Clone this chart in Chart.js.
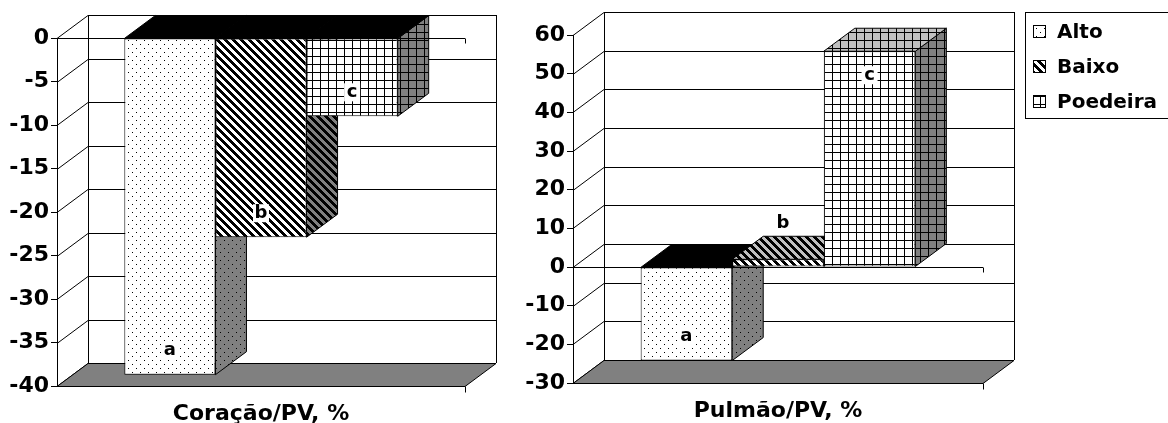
<!DOCTYPE html>
<html>
<head>
<meta charset="utf-8">
<script src="https://cdn.jsdelivr.net/npm/chart.js@4.4.1/dist/chart.umd.min.js"></script>
<style>
  html, body { margin: 0; padding: 0; background: #fff; overflow: hidden; }
  #wrap { position: relative; width: 1168px; height: 423px; overflow: hidden; }
  canvas { position: absolute; top: 0; }
  #coracao { left: 0; }
  #pulmao { left: 520px; }
</style>
</head>
<body>
<div id="wrap">
  <canvas id="coracao" width="520" height="430"></canvas>
  <canvas id="pulmao" width="648" height="430"></canvas>
</div>
<script>
// data
const groups = ["Alto", "Baixo", "Poedeira"];
const patterns = ["dots", "diag", "grid"];
const coracaoValues = [-38.7, -22.9, -9.0];
const pulmaoValues = [-24.2, 2.0, 55.8];
const coracaoLetters = ["a", "b", "c"];
const pulmaoLetters = ["a", "b", "c"];
const coracaoAxis = [-40, 0, 5]; // min, max, step
const pulmaoAxis = [-30, 60, 10];

const depth = { dx: 31, dy: -23 };
const FONT = "'DejaVu Sans', 'Liberation Sans', sans-serif";

const makePattern = (kind, bg) => {
  const c = document.createElement("canvas");
  c.width = 8;
  c.height = 8;
  const g = c.getContext("2d");
  g.fillStyle = bg;
  g.fillRect(0, 0, 8, 8);
  g.fillStyle = "#000";
  if (kind === "dots") {
    g.fillRect(0, 0, 1, 1);
    g.fillRect(4, 4, 1, 1);
  } else if (kind === "diag") {
    for (let y = 0; y < 8; y++)
      for (let x = 0; x < 8; x++)
        if ((((x - y) % 8) + 8) % 8 < 4) g.fillRect(x, y, 1, 1);
  } else {
    g.fillRect(0, 0, 8, 1);
    g.fillRect(0, 0, 1, 8);
  }
  return g.createPattern(c, "repeat");
};

const poly = (ctx, pts, fill) => {
  ctx.beginPath();
  pts.forEach(([px, py], i) => (i ? ctx.lineTo(px, py) : ctx.moveTo(px, py)));
  ctx.closePath();
  ctx.fillStyle = fill;
  ctx.fill();
  ctx.stroke();
};

// walls, floor and the side/top faces of the bars
const box3d = {
  id: "box3d",
  beforeDatasetsDraw(chart) {
    const { ctx, chartArea: a, scales: { y } } = chart;
    const { dx, dy } = depth;
    const top = y.getPixelForValue(y.max);
    const bottom = y.getPixelForValue(y.min);
    ctx.save();
    ctx.strokeStyle = "#000";
    ctx.lineWidth = 1;
    ctx.beginPath();
    y.ticks.forEach((t) => {
      const py = Math.round(y.getPixelForValue(t.value)) + 0.5;
      ctx.moveTo(a.left + dx, py + dy);
      ctx.lineTo(a.right + dx, py + dy);
      ctx.moveTo(a.left, py);
      ctx.lineTo(a.left + dx, py + dy);
    });
    ctx.moveTo(Math.round(a.left + dx) + 0.5, top + dy);
    ctx.lineTo(Math.round(a.left + dx) + 0.5, bottom + dy);
    ctx.moveTo(Math.round(a.right + dx) + 0.5, top + dy);
    ctx.lineTo(Math.round(a.right + dx) + 0.5, bottom + dy);
    ctx.stroke();

    const fb = Math.round(bottom) + 0.5;
    poly(ctx, [[a.left, fb], [a.right, fb], [a.right + dx, fb + dy], [a.left + dx, fb + dy]], "#808080");

    chart.data.datasets.forEach((ds, i) => {
      const bar = chart.getDatasetMeta(i).data[0];
      const x0 = bar.x - bar.width / 2;
      const x1 = bar.x + bar.width / 2;
      poly(ctx, [[x1, bar.y], [x1 + dx, bar.y + dy], [x1 + dx, bar.base + dy], [x1, bar.base]], ds.sideFill);
      const yt = Math.min(bar.y, bar.base);
      poly(ctx, [[x0, yt], [x0 + dx, yt + dy], [x1 + dx, yt + dy], [x1, yt]], ds.data[0] < 0 ? "#000" : ds.topFill);
    });
    ctx.restore();
  },
  afterDatasetsDraw(chart) {
    const { ctx, chartArea: a, scales: { y } } = chart;
    const zero = Math.round(y.getPixelForValue(0)) + 0.5;
    const bottom = Math.round(y.getPixelForValue(y.min)) + 0.5;
    ctx.save();
    ctx.strokeStyle = "#000";
    ctx.lineWidth = 1;
    ctx.beginPath();
    ctx.moveTo(a.left, zero);
    ctx.lineTo(a.right, zero);
    ctx.moveTo(Math.round(a.right) + 0.5, zero);
    ctx.lineTo(Math.round(a.right) + 0.5, zero + 5);
    ctx.moveTo(Math.round(a.right) + 0.5, bottom);
    ctx.lineTo(Math.round(a.right) + 0.5, bottom + 6);
    ctx.stroke();

    ctx.font = "bold 18px " + FONT;
    ctx.textAlign = "center";
    ctx.textBaseline = "middle";
    chart.data.datasets.forEach((ds, i) => {
      const bar = chart.getDatasetMeta(i).data[0];
      const len = Math.abs(bar.base - bar.y);
      let lx = bar.x;
      let ly;
      if (len < 40) {
        ly = Math.min(bar.y, bar.base) + depth.dy - 13;
        lx += 5;
      } else {
        ly = bar.y + (bar.y > bar.base ? -24 : 24);
        ctx.fillStyle = "#fff";
        ctx.fillRect(lx - 8, ly - 9, 16, 18);
      }
      ctx.fillStyle = "#000";
      ctx.fillText(ds.letter, lx, ly);
    });
    ctx.restore();
  },
};

const legendBox = {
  id: "legendBox",
  afterDraw(chart) {
    const ctx = chart.ctx;
    const bx = 505, by = 12;
    ctx.save();
    ctx.strokeStyle = "#000";
    ctx.lineWidth = 1;
    ctx.fillStyle = "#fff";
    ctx.fillRect(bx + 0.5, by + 0.5, 150, 106);
    ctx.strokeRect(bx + 0.5, by + 0.5, 150, 106);
    ctx.font = "bold 20px " + FONT;
    ctx.textBaseline = "middle";
    chart.data.datasets.forEach((ds, i) => {
      const cy = by + 20 + i * 35;
      ctx.fillStyle = ds.backgroundColor;
      ctx.fillRect(bx + 8.5, cy - 6.5, 12, 12);
      ctx.strokeRect(bx + 8.5, cy - 6.5, 12, 12);
      ctx.fillStyle = "#000";
      ctx.fillText(ds.label, bx + 32, cy + 1);
    });
    ctx.restore();
  },
};

const buildDatasets = (values, letters) =>
  groups.map((g, i) => ({
    label: g,
    data: [values[i]],
    letter: letters[i],
    backgroundColor: makePattern(patterns[i], "#fff"),
    sideFill: makePattern(patterns[i], "#808080"),
    topFill: makePattern(patterns[i], "#c0c0c0"),
    borderColor: "#000",
    borderWidth: 1,
    borderSkipped: false,
    barPercentage: 1,
    categoryPercentage: 0.67,
  }));

const createChart = (id, values, letters, axis, title, pad, axisWidth, titlePad, extra) => {
  return new Chart(document.getElementById(id), {
    type: "bar",
    data: { labels: [""], datasets: buildDatasets(values, letters) },
    plugins: [box3d].concat(extra),
    options: {
      responsive: false,
      animation: false,
      devicePixelRatio: 1,
      layout: { padding: pad },
      plugins: { legend: { display: false }, tooltip: { enabled: false } },
      scales: {
        x: {
          ticks: { display: false },
          grid: { display: false, drawTicks: false },
          border: { display: false },
          title: {
            display: true,
            text: title,
            color: "#000",
            font: { family: FONT, size: 22, weight: "bold" },
            padding: titlePad,
          },
        },
        y: {
          min: axis[0],
          max: axis[1],
          ticks: { stepSize: axis[2], color: "#000", padding: 2, font: { family: FONT, size: 22, weight: "bold" } },
          grid: { drawOnChartArea: false, drawTicks: true, tickLength: 6, color: "#000" },
          border: { display: true, color: "#000" },
          afterFit: (s) => { s.width = axisWidth; },
        },
      },
    },
  });
};

createChart("coracao", coracaoValues, coracaoLetters, coracaoAxis, "Coração/PV, %",
  { top: 38, right: 55, bottom: 0, left: 0 }, 57, { top: 14.8, bottom: 2.8 }, []);
createChart("pulmao", pulmaoValues, pulmaoLetters, pulmaoAxis, "Pulmão/PV, %",
  { top: 35, right: 185, bottom: 0, left: 0 }, 53, { top: 14.8, bottom: 5.8 }, [legendBox]);
</script>
</body>
</html>
